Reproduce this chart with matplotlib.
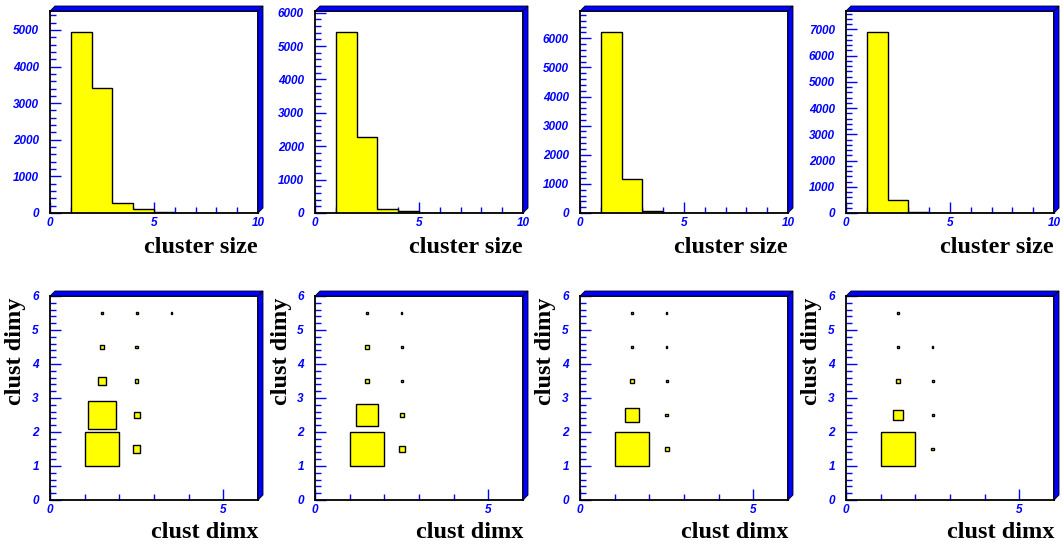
import matplotlib.pyplot as plt
import numpy as np
from matplotlib.patches import Rectangle, Polygon
from matplotlib.ticker import MultipleLocator


# cluster size histograms, bins [0,1) .. [9,10), one list per module
sizeEdges = np.arange(0, 11)
sizeCounts = [
  [0, 4952, 3417, 272, 122, 35, 10, 3, 0, 0],
  [0, 5431, 2267, 115, 45, 8, 2, 0, 0, 0],
  [0, 6226, 1166, 80, 15, 5, 1, 0, 0, 0],
  [0, 6908, 506, 50, 8, 2, 0, 0, 0, 0],
]

# cluster dimx / dimy counts: rows are dimy 1..5, columns dimx 1..3
dimxBins = [1, 2, 3]
dimyBins = [1, 2, 3, 4, 5]
dimCounts = [
  [[4950, 220, 0], [3300, 150, 0], [220, 50, 0], [90, 30, 0], [30, 12, 8]],
  [[5430, 163, 0], [2090, 70, 0], [98, 16, 0], [55, 16, 0], [16, 11, 0]],
  [[6230, 93, 0], [1100, 46, 0], [70, 19, 0], [37, 12, 0], [28, 12, 0]],
  [[6910, 51, 0], [530, 23, 0], [62, 23, 0], [31, 10, 0], [23, 0, 0]],
]

W, H = 1063, 548
panelLeft = [50, 315, 580, 846]
panelWidth = 208
tickFont = dict(family='Liberation Sans', weight='bold', style='italic', size=8.5)
labelFont = dict(family='Liberation Serif', weight='bold', size=17.5)

fig = plt.figure(figsize=(W / 100, H / 100), dpi=100)


# make axes from pixel box (left, top, width, height)
def pixAxes(l, t, w, h):
  return fig.add_axes([l / W, 1 - (t + h) / H, w / W, h / H])


# ROOT-like blue bevel on the top and right of the frame
def addBand(l, t, w, h, d=5):
  r, b = l + w, t + h
  def f(pts):
    return [(x / W, 1 - y / H) for x, y in pts]
  for pts in ([(l, t), (l + d, t - d), (r + d, t - d), (r, t)],
              [(r, t), (r + d, t - d), (r + d, b - d), (r, b)]):
    fig.patches.append(Polygon(f(pts), closed=True, transform=fig.transFigure,
                               facecolor='#0000ff', edgecolor='black', lw=0.6))


def styleAxes(ax):
  for s in ax.spines.values():
    s.set_linewidth(1.3)
    s.set_color('black')
  ax.tick_params(which='both', direction='in', color='#0000ff', width=1,
                 top=False, right=False, labelcolor='#0000ff')
  ax.tick_params(which='major', length=8)
  ax.tick_params(which='minor', length=4)
  ax.tick_params(axis='y', pad=8)
  ax.tick_params(axis='x', pad=3)
  for lab in ax.get_xticklabels() + ax.get_yticklabels():
    lab.set(**tickFont)


# top row: cluster size
for i in range(4):
  t, h = 11, 202
  ax = pixAxes(panelLeft[i], t, panelWidth, h)
  counts = sizeCounts[i]
  ax.bar(sizeEdges[:-1], counts, width=1, align='edge', color='#ffff00',
         edgecolor='none', zorder=2)
  ax.stairs(counts, sizeEdges, color='black', lw=1, zorder=3)
  ax.set_xlim(0, 10)
  ax.set_ylim(0, 1.114 * max(counts))
  ax.xaxis.set_major_locator(MultipleLocator(5))
  ax.xaxis.set_minor_locator(MultipleLocator(1))
  ax.yaxis.set_major_locator(MultipleLocator(1000))
  ax.yaxis.set_minor_locator(MultipleLocator(200))
  styleAxes(ax)
  addBand(panelLeft[i], t, panelWidth, h)
  fig.text((panelLeft[i] + panelWidth) / W, 1 - 253 / H, 'cluster size',
           ha='right', va='baseline', **labelFont)

# bottom row: clust dimy vs clust dimx boxes
for i in range(4):
  t, h = 296, 204
  ax = pixAxes(panelLeft[i], t, panelWidth, h)
  grid = np.array(dimCounts[i], dtype=float)
  cmax = grid.max()
  for yi, yv in enumerate(dimyBins):
    for xi, xv in enumerate(dimxBins):
      c = grid[yi, xi]
      if c <= 0:
        continue
      side = np.sqrt(c / cmax)
      ax.add_patch(Rectangle((xv + 0.5 - side / 2, yv + 0.5 - side / 2), side, side,
                             facecolor='#ffff00', edgecolor='black', lw=1, zorder=2))
  ax.set_xlim(0, 6)
  ax.set_ylim(0, 6)
  ax.xaxis.set_major_locator(MultipleLocator(5))
  ax.xaxis.set_minor_locator(MultipleLocator(1))
  ax.yaxis.set_major_locator(MultipleLocator(1))
  ax.yaxis.set_minor_locator(MultipleLocator(0.2))
  styleAxes(ax)
  addBand(panelLeft[i], t, panelWidth, h)
  fig.text((panelLeft[i] + panelWidth) / W, 1 - 538 / H, 'clust dimx',
           ha='right', va='baseline', **labelFont)
  fig.text((panelLeft[i] - 34) / W, 1 - 298 / H, 'clust dimy', rotation=90,
           ha='center', va='top', **labelFont)

fig.savefig('out.png', dpi=100)
